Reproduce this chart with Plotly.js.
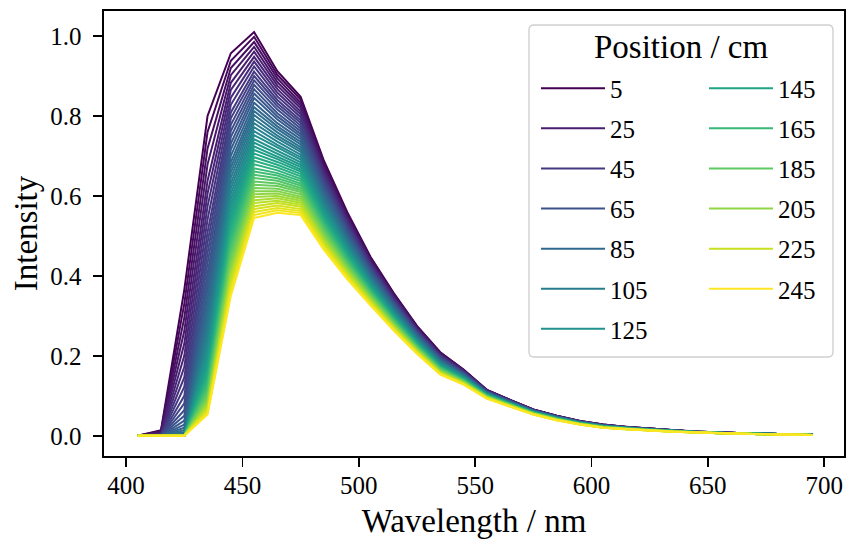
<!DOCTYPE html>
<html>
<head>
<meta charset="utf-8">
<script src="https://cdn.plot.ly/plotly-3.0.1.min.js"></script>
<style>html,body{margin:0;padding:0;background:#fff;}#chart{width:847px;height:539px;}</style>
</head>
<body>
<div id="chart"></div>
<script>
// ---- data ----
const wavelengths = [405, 415, 425, 435, 445, 455, 465, 475, 485, 495, 505, 515, 525, 535, 545,
                     555, 565, 575, 585, 595, 605, 615, 625, 635, 645, 655, 665, 675, 685, 695];
const positions = [5, 10, 15, 20, 25, 30, 35, 40, 45, 50, 55, 60, 65, 70, 75, 80, 85, 90, 95, 100,
                   105, 110, 115, 120, 125, 130, 135, 140, 145, 150, 155, 160, 165, 170, 175, 180,
                   185, 190, 195, 200, 205, 210, 215, 220, 225, 230, 235, 240, 245];
const legendPositions = [5, 25, 45, 65, 85, 105, 125, 145, 165, 185, 205, 225, 245];
const legendTitle = 'Position / cm';
const xTitle = 'Wavelength / nm';
const yTitle = 'Intensity';
// one row per position, one value per wavelength
const intensity = [
[0,.014,.365,.800,.957,1.010,.912,.848,.688,.560,.448,.357,.275,.209,.166,.115,.090,.066,.050,.037,.028,.022,.018,.014,.010,.008,.006,.005,.004,.003],
[0,.012,.330,.760,.938,.998,.903,.841,.683,.556,.445,.355,.273,.208,.165,.115,.090,.066,.050,.037,.028,.022,.018,.014,.010,.008,.006,.005,.004,.003],
[0,.010,.295,.719,.920,.985,.894,.833,.677,.552,.442,.353,.272,.206,.164,.114,.089,.065,.050,.037,.028,.022,.018,.014,.010,.008,.006,.005,.004,.003],
[0,.008,.262,.679,.902,.973,.885,.826,.672,.548,.439,.350,.270,.205,.163,.114,.089,.065,.049,.036,.027,.022,.018,.014,.010,.008,.006,.005,.004,.003],
[0,.006,.230,.638,.883,.961,.876,.819,.666,.544,.436,.348,.268,.204,.163,.113,.089,.065,.049,.036,.027,.021,.018,.014,.010,.008,.006,.005,.004,.003],
[0,.004,.200,.606,.865,.948,.867,.811,.661,.540,.434,.346,.267,.202,.162,.113,.088,.065,.049,.036,.027,.021,.017,.014,.010,.008,.006,.005,.004,.003],
[0,.003,.172,.574,.846,.936,.858,.804,.655,.536,.431,.344,.265,.201,.161,.112,.088,.064,.049,.036,.027,.021,.017,.013,.010,.008,.006,.005,.004,.003],
[0,.002,.146,.541,.828,.924,.849,.797,.650,.532,.428,.341,.264,.200,.160,.112,.087,.064,.048,.036,.027,.021,.017,.013,.010,.008,.006,.005,.004,.003],
[0,.001,.122,.509,.809,.911,.840,.789,.645,.528,.425,.339,.262,.198,.159,.111,.087,.064,.048,.035,.027,.021,.017,.013,.010,.008,.006,.005,.004,.003],
[0,0,.100,.483,.794,.900,.832,.783,.639,.524,.422,.337,.260,.197,.158,.111,.087,.064,.048,.035,.026,.021,.017,.013,.010,.008,.006,.005,.004,.003],
[0,0,.081,.457,.778,.889,.824,.776,.634,.520,.419,.335,.259,.196,.157,.110,.086,.063,.048,.035,.026,.021,.017,.013,.010,.008,.006,.005,.004,.003],
[0,0,.064,.432,.762,.878,.816,.769,.629,.516,.417,.333,.257,.195,.156,.110,.086,.063,.048,.035,.026,.021,.017,.013,.010,.008,.006,.005,.004,.003],
[0,0,.050,.406,.747,.867,.807,.762,.624,.513,.414,.331,.256,.193,.156,.110,.086,.063,.047,.035,.026,.020,.017,.013,.009,.007,.006,.005,.004,.003],
[0,0,.038,.385,.731,.856,.799,.755,.619,.509,.411,.329,.254,.192,.155,.109,.085,.062,.047,.035,.026,.020,.017,.013,.009,.007,.006,.005,.004,.003],
[0,0,.028,.365,.716,.845,.791,.749,.614,.505,.408,.327,.253,.191,.154,.109,.085,.062,.047,.034,.026,.020,.017,.013,.009,.007,.006,.005,.004,.003],
[0,0,.020,.344,.700,.833,.782,.742,.609,.501,.406,.325,.251,.190,.153,.108,.084,.062,.047,.034,.025,.020,.016,.013,.009,.007,.006,.005,.004,.003],
[0,0,.014,.324,.684,.822,.774,.735,.604,.497,.403,.322,.249,.188,.152,.108,.084,.062,.046,.034,.025,.020,.016,.013,.009,.007,.006,.005,.004,.003],
[0,0,.009,.307,.671,.812,.767,.729,.599,.494,.400,.320,.248,.187,.151,.107,.084,.061,.046,.034,.025,.020,.016,.013,.009,.007,.006,.005,.004,.003],
[0,0,.005,.291,.658,.802,.759,.722,.594,.490,.398,.318,.246,.186,.151,.107,.083,.061,.046,.034,.025,.020,.016,.012,.009,.007,.006,.005,.004,.003],
[0,0,.002,.275,.645,.792,.751,.716,.589,.487,.395,.316,.245,.185,.150,.106,.083,.061,.046,.033,.025,.020,.016,.012,.009,.007,.006,.005,.004,.003],
[0,0,0,.258,.631,.782,.744,.710,.585,.483,.393,.314,.243,.184,.149,.106,.083,.061,.045,.033,.025,.019,.016,.012,.009,.007,.006,.005,.004,.003],
[0,0,0,.245,.618,.772,.736,.703,.580,.480,.390,.312,.242,.182,.148,.105,.082,.060,.045,.033,.024,.019,.016,.012,.009,.007,.006,.005,.004,.003],
[0,0,0,.232,.605,.762,.728,.697,.575,.476,.387,.310,.240,.181,.148,.105,.082,.060,.045,.033,.024,.019,.016,.012,.009,.007,.006,.005,.004,.003],
[0,0,0,.219,.592,.752,.721,.691,.570,.472,.385,.308,.239,.180,.147,.104,.081,.060,.045,.033,.024,.019,.016,.012,.009,.007,.006,.005,.004,.003],
[0,0,0,.206,.579,.742,.713,.684,.566,.469,.382,.306,.237,.179,.146,.104,.081,.060,.045,.032,.024,.019,.016,.012,.009,.007,.005,.004,.003,.002],
[0,0,0,.196,.568,.733,.706,.678,.561,.466,.380,.305,.236,.178,.145,.104,.081,.059,.044,.032,.024,.019,.015,.012,.009,.007,.005,.004,.003,.002],
[0,0,0,.185,.556,.724,.699,.672,.557,.462,.377,.303,.235,.177,.144,.103,.080,.059,.044,.032,.024,.019,.015,.012,.009,.007,.005,.004,.003,.002],
[0,0,0,.175,.545,.715,.692,.666,.552,.459,.375,.301,.233,.175,.144,.103,.080,.059,.044,.032,.023,.019,.015,.012,.009,.007,.005,.004,.003,.002],
[0,0,0,.164,.534,.706,.685,.661,.548,.455,.372,.299,.232,.174,.143,.102,.080,.058,.044,.032,.023,.018,.015,.012,.009,.007,.005,.004,.003,.002],
[0,0,0,.156,.523,.697,.678,.655,.543,.452,.370,.297,.230,.173,.142,.102,.079,.058,.043,.032,.023,.018,.015,.012,.009,.007,.005,.004,.003,.002],
[0,0,0,.148,.512,.688,.671,.649,.539,.449,.367,.295,.229,.172,.141,.101,.079,.058,.043,.031,.023,.018,.015,.011,.009,.007,.005,.004,.003,.002],
[0,0,0,.139,.500,.679,.664,.643,.534,.445,.365,.293,.227,.171,.140,.101,.078,.058,.043,.031,.023,.018,.015,.011,.009,.007,.005,.004,.003,.002],
[0,0,0,.131,.489,.669,.657,.637,.530,.442,.362,.291,.226,.170,.140,.100,.078,.057,.043,.031,.023,.018,.015,.011,.009,.007,.005,.004,.003,.002],
[0,0,0,.124,.480,.661,.651,.631,.526,.438,.360,.289,.225,.169,.139,.100,.078,.057,.042,.031,.022,.018,.015,.011,.009,.007,.005,.004,.003,.002],
[0,0,0,.118,.470,.653,.644,.626,.521,.435,.358,.288,.223,.168,.138,.099,.077,.057,.042,.031,.022,.018,.014,.011,.009,.007,.005,.004,.003,.002],
[0,0,0,.111,.461,.645,.638,.620,.517,.432,.355,.286,.222,.167,.137,.099,.077,.057,.042,.030,.022,.018,.014,.011,.009,.007,.005,.004,.003,.002],
[0,0,0,.105,.451,.636,.631,.615,.513,.429,.353,.284,.221,.166,.137,.099,.077,.056,.042,.030,.022,.017,.014,.011,.008,.006,.005,.004,.003,.002],
[0,0,0,.099,.442,.628,.625,.610,.509,.426,.351,.282,.219,.164,.136,.098,.076,.056,.042,.030,.022,.017,.014,.011,.008,.006,.005,.004,.003,.002],
[0,0,0,.094,.432,.620,.618,.604,.505,.422,.348,.280,.218,.163,.135,.098,.076,.056,.041,.030,.022,.017,.014,.011,.008,.006,.005,.004,.003,.002],
[0,0,0,.089,.423,.612,.612,.598,.500,.419,.346,.278,.217,.162,.134,.097,.075,.055,.041,.030,.021,.017,.014,.011,.008,.006,.005,.004,.003,.002],
[0,0,0,.083,.414,.604,.606,.593,.496,.416,.344,.277,.215,.161,.134,.097,.075,.055,.041,.029,.021,.017,.014,.011,.008,.006,.005,.004,.003,.002],
[0,0,0,.079,.406,.597,.600,.588,.492,.413,.342,.275,.214,.160,.133,.096,.075,.055,.041,.029,.021,.017,.014,.011,.008,.006,.005,.004,.003,.002],
[0,0,0,.075,.398,.589,.594,.583,.488,.410,.339,.273,.213,.159,.132,.096,.074,.055,.040,.029,.021,.017,.014,.010,.008,.006,.005,.004,.003,.002],
[0,0,0,.071,.390,.582,.588,.578,.484,.407,.337,.272,.211,.158,.132,.095,.074,.054,.040,.029,.021,.017,.014,.010,.008,.006,.005,.004,.003,.002],
[0,0,0,.067,.382,.574,.582,.573,.480,.404,.335,.270,.210,.157,.131,.095,.074,.054,.040,.029,.021,.016,.013,.010,.008,.006,.005,.004,.003,.002],
[0,0,0,.063,.374,.567,.576,.567,.477,.401,.333,.268,.209,.156,.130,.094,.073,.054,.040,.029,.020,.016,.013,.010,.008,.006,.005,.004,.003,.002],
[0,0,0,.060,.366,.560,.570,.562,.473,.398,.330,.266,.208,.155,.130,.094,.073,.054,.039,.028,.020,.016,.013,.010,.008,.006,.005,.004,.003,.002],
[0,0,0,.056,.358,.552,.564,.557,.469,.395,.328,.265,.206,.154,.129,.093,.072,.053,.039,.028,.020,.016,.013,.010,.008,.006,.005,.004,.003,.002],
[0,0,0,.053,.350,.545,.558,.552,.465,.392,.326,.263,.205,.153,.128,.093,.072,.053,.039,.028,.020,.016,.013,.010,.008,.006,.005,.004,.003,.002]
];

// ---- styling ----
const FONT = '"Liberation Serif", "Times New Roman", serif';
const viridisStops = ['#440154','#471365','#482475','#463480','#414487','#3b528b','#355f8d',
  '#2f6c8e','#2a788e','#25848e','#21918c','#1e9c89','#22a884','#2fb47c','#44bf70','#5ec962',
  '#7ad151','#9bd93c','#bddf26','#dfe318','#fde725'];
function hex2rgb(h){return [parseInt(h.slice(1,3),16),parseInt(h.slice(3,5),16),parseInt(h.slice(5,7),16)];}
function viridis(t){
  const n = viridisStops.length - 1;
  const f = Math.min(Math.max(t,0),1) * n;
  const i = Math.min(Math.floor(f), n - 1);
  const u = f - i;
  const a = hex2rgb(viridisStops[i]), b = hex2rgb(viridisStops[i+1]);
  const c = a.map((v,j)=>Math.round(v + (b[j]-v)*u));
  return 'rgb(' + c.join(',') + ')';
}

const W = 847, H = 539;
const M = {l:104, r:3, t:11, b:83};
const PW = W - M.l - M.r, PH = H - M.t - M.b;
const px2x = p => (p - M.l) / PW;
const py2y = p => (H - M.b - p) / PH;

const splitAt = 125; // first legend column holds 5..125
const traces = positions.map((pos, k) => {
  const inLegend = legendPositions.includes(pos);
  return {
    type: 'scatter', mode: 'lines',
    x: wavelengths, y: intensity[k],
    name: String(pos),
    line: {color: viridis(k / (positions.length - 1)), width: 2},
    showlegend: inLegend,
    legend: pos <= splitAt ? 'legend' : 'legend2',
    legendgroup: 'g' + pos,
    hoverinfo: 'skip'
  };
});

// legend frame (rounded rectangle) in paper coordinates
const bx0 = px2x(529), bx1 = px2x(833), by0 = py2y(357), by1 = py2y(25);
const rx = 5 / PW, ry = 5 / PH;
const framePath = `M ${bx0+rx},${by1} L ${bx1-rx},${by1} Q ${bx1},${by1} ${bx1},${by1-ry} ` +
  `L ${bx1},${by0+ry} Q ${bx1},${by0} ${bx1-rx},${by0} L ${bx0+rx},${by0} Q ${bx0},${by0} ${bx0},${by0+ry} ` +
  `L ${bx0},${by1-ry} Q ${bx0},${by1} ${bx0+rx},${by1} Z`;

const legendCommon = {
  bgcolor: 'rgba(0,0,0,0)', borderwidth: 0,
  font: {family: FONT, size: 25, color: '#000'},
  itemwidth: 64, traceorder: 'grouped', tracegroupgap: 4.6,
  xanchor: 'left', yanchor: 'top', y: py2y(65.5),
  itemclick: false, itemdoubleclick: false
};

const axisCommon = {
  showgrid: false, zeroline: false, showline: true, mirror: true,
  linecolor: '#000', linewidth: 1.6,
  ticks: 'outside', ticklen: 9, tickwidth: 1.6, tickcolor: '#000',
  tickfont: {family: FONT, size: 25, color: '#000'}
};

const layout = {
  width: W, height: H,
  margin: M,
  paper_bgcolor: '#fff', plot_bgcolor: '#fff',
  font: {family: FONT, color: '#000'},
  showlegend: true,
  hovermode: false,
  xaxis: Object.assign({}, axisCommon, {
    range: [390.5, 708.5], tick0: 400, dtick: 50, automargin: false,
    ticklabelstandoff: -3,
    title: {text: xTitle, font: {family: FONT, size: 33, color: '#000'}, standoff: 26}
  }),
  yaxis: Object.assign({}, axisCommon, {
    range: [-0.0506, 1.0626], tick0: 0, dtick: 0.2, tickformat: '.1f', automargin: false,
    ticklabelstandoff: 7,
    title: {text: yTitle, font: {family: FONT, size: 33, color: '#000'}, standoff: 2}
  }),
  legend: Object.assign({}, legendCommon, {x: px2x(536)}),
  legend2: Object.assign({}, legendCommon, {x: px2x(704)}),
  shapes: [{
    type: 'path', xref: 'paper', yref: 'paper', path: framePath,
    fillcolor: 'rgba(255,255,255,0.8)', line: {color: '#d0d0d0', width: 1.4}, layer: 'above'
  }],
  annotations: [{
    xref: 'paper', yref: 'paper', x: px2x(681), y: py2y(46.7),
    xanchor: 'center', yanchor: 'middle', showarrow: false,
    text: legendTitle, font: {family: FONT, size: 33, color: '#000'}
  }]
};

Plotly.newPlot('chart', traces, layout, {staticPlot: true, displayModeBar: false});
</script>
</body>
</html>
